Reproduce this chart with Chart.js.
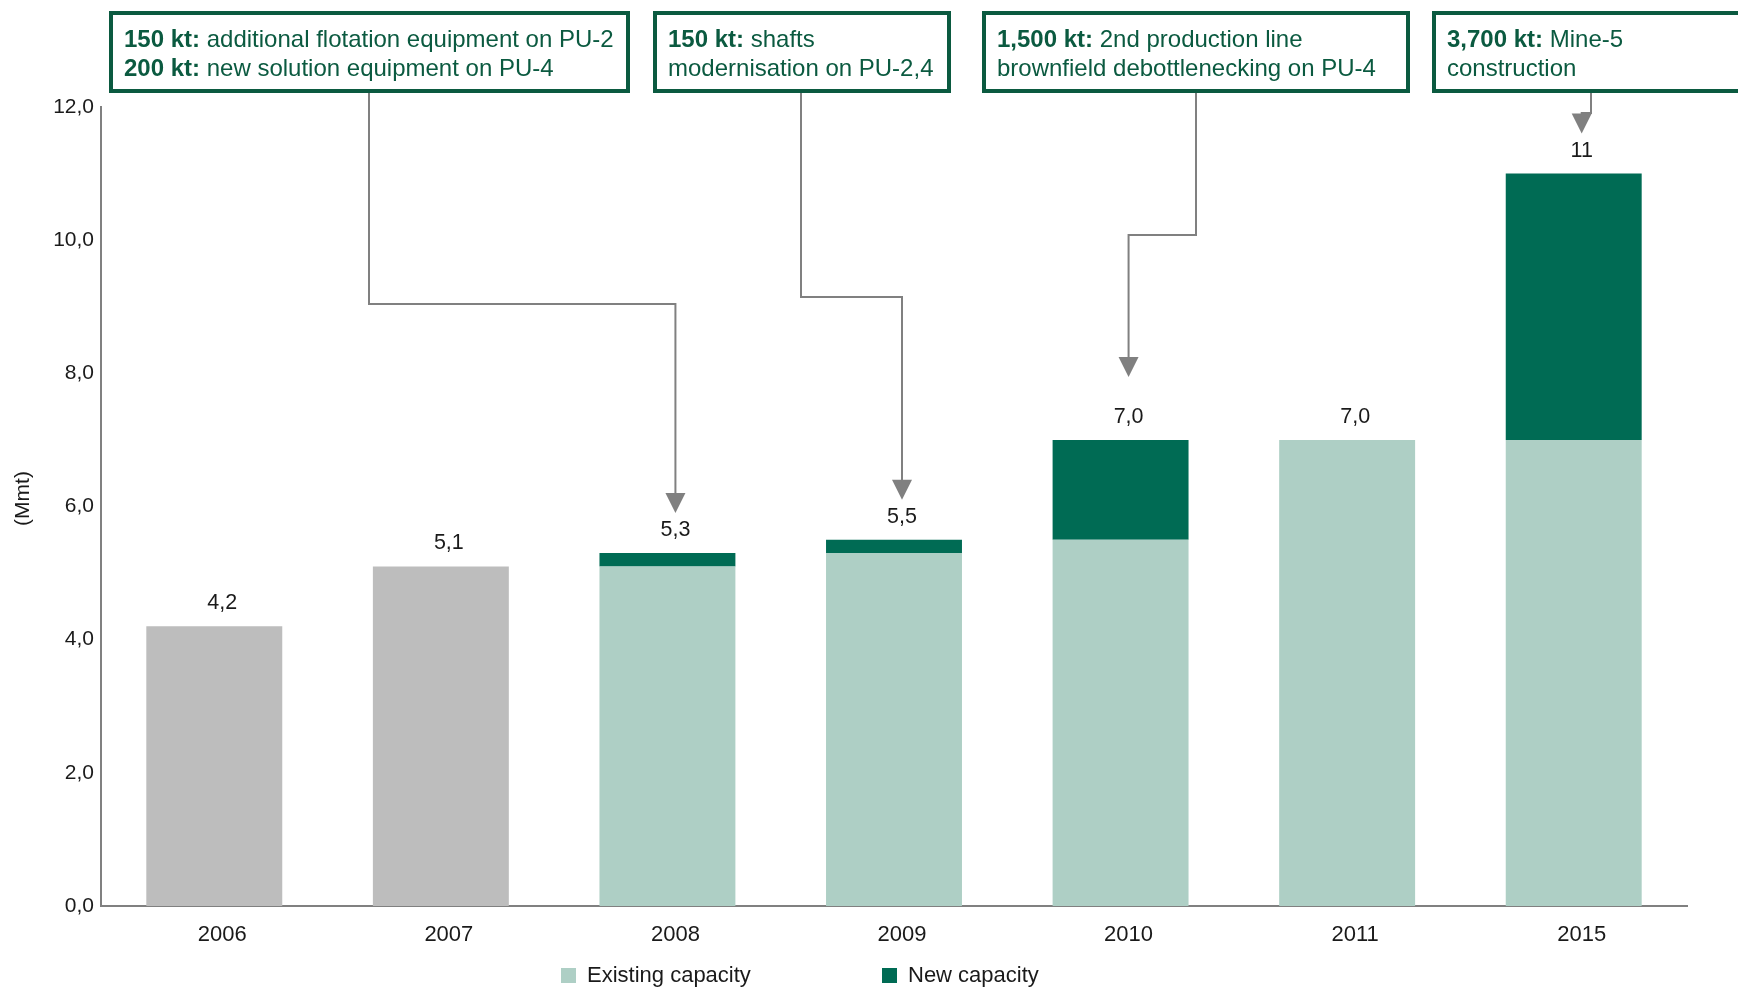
<!DOCTYPE html>
<html>
<head>
<meta charset="utf-8">
<script src="https://cdn.jsdelivr.net/npm/chart.js@4.4.0/dist/chart.umd.min.js"></script>
<style>
  html, body { margin: 0; padding: 0; background: #fff; }
  #wrap { width: 1738px; height: 987px; }
</style>
</head>
<body>
<div id="wrap"><canvas id="capacityChart" width="1738" height="987"></canvas></div>
<script>
// chart data
const years = ["2006", "2007", "2008", "2009", "2010", "2011", "2015"];
const historical = [4.2, 5.1, null, null, null, null, null];
const existingCapacity = [null, null, 5.1, 5.3, 5.5, 7.0, 7.0];
const newCapacity = [null, null, 0.2, 0.2, 1.5, null, 4.0];
const totalLabels = ["4,2", "5,1", "5,3", "5,5", "7,0", "7,0", "11"];
const yTicks = [0, 2, 4, 6, 8, 10, 12];

// callout texts (bold lead + regular rest, one entry per line)
const noteYears = ["2008", "2009", "2010", "2015"];
const noteLines = [
  [["150 kt:", " additional flotation equipment on PU-2"], ["200 kt:", " new solution equipment on PU-4"]],
  [["150 kt:", " shafts"], ["", "modernisation on PU-2,4"]],
  [["1,500 kt:", " 2nd production line"], ["", "brownfield debottlenecking on PU-4"]],
  [["3,700 kt:", " Mine-5"], ["", "construction"]],
];

// callout layout (box rect, stem x, bend y, gap above value label)
const noteBoxes = [
  { x: 109, y: 11, w: 521, h: 82, stemX: 369, bendY: 304, gap: 17 },
  { x: 653, y: 11, w: 298, h: 82, stemX: 801, bendY: 297, gap: 17 },
  { x: 982, y: 11, w: 428, h: 82, stemX: 1196, bendY: 235, gap: 40 },
  { x: 1432, y: 11, w: 340, h: 82, stemX: 1591, bendY: 113, gap: 17 },
];

const FONT = "'Liberation Sans', Arial, sans-serif";
const GREEN_DARK = "#006b54";
const GREEN_LIGHT = "#aecfc5";
const GREY_BAR = "#bdbdbd";
const GREY_LINE = "#808080";
const NOTE_GREEN = "#0b5a40";
const LABEL_SHIFT = 8;

const annotationsPlugin = {
  id: "annotations",
  afterDraw(chart) {
    const ctx = chart.ctx;
    const xScale = chart.scales.x;
    const yScale = chart.scales.y;

    const labelY = (i) => {
      const total = (historical[i] || 0) + (existingCapacity[i] || 0) + (newCapacity[i] || 0);
      return yScale.getPixelForValue(total) - 23;
    };

    ctx.save();

    // value labels above bars
    ctx.fillStyle = "#1a1a1a";
    ctx.font = "21.5px " + FONT;
    ctx.textAlign = "center";
    ctx.textBaseline = "middle";
    years.forEach((y, i) => {
      ctx.fillText(totalLabels[i], xScale.getPixelForValue(i) + LABEL_SHIFT, labelY(i));
    });

    // y axis title, drawn here so it can sit a little above the centre
    ctx.save();
    ctx.translate(23, (chart.chartArea.top + chart.chartArea.bottom) / 2 - 8);
    ctx.rotate(-Math.PI / 2);
    ctx.font = "21px " + FONT;
    ctx.fillText("(Mmt)", 0, 0);
    ctx.restore();

    // callout boxes with connectors
    noteYears.forEach((year, n) => {
      const box = noteBoxes[n];
      const i = years.indexOf(year);
      const tipX = xScale.getPixelForValue(i) + LABEL_SHIFT;
      const tipY = labelY(i) - box.gap;
      const head = 20;

      ctx.strokeStyle = GREY_LINE;
      ctx.lineWidth = 2;
      ctx.beginPath();
      ctx.moveTo(box.stemX, box.y + box.h);
      ctx.lineTo(box.stemX, box.bendY);
      ctx.lineTo(tipX, box.bendY);
      ctx.lineTo(tipX, tipY - head + 2);
      ctx.stroke();

      ctx.fillStyle = GREY_LINE;
      ctx.beginPath();
      ctx.moveTo(tipX - 10, tipY - head);
      ctx.lineTo(tipX + 10, tipY - head);
      ctx.lineTo(tipX, tipY);
      ctx.closePath();
      ctx.fill();

      ctx.fillStyle = "#fff";
      ctx.fillRect(box.x, box.y, box.w, box.h);
      ctx.strokeStyle = NOTE_GREEN;
      ctx.lineWidth = 4;
      ctx.strokeRect(box.x + 2, box.y + 2, box.w - 4, box.h - 4);

      ctx.textAlign = "left";
      ctx.textBaseline = "alphabetic";
      ctx.fillStyle = NOTE_GREEN;
      noteLines[n].forEach((line, k) => {
        const tx = box.x + 15;
        const ty = box.y + 36 + k * 29;
        ctx.font = "bold 24px " + FONT;
        ctx.fillText(line[0], tx, ty);
        const w = ctx.measureText(line[0]).width;
        ctx.font = "24px " + FONT;
        ctx.fillText(line[1], tx + w, ty);
      });
    });

    // legend
    const legendItems = [
      { text: "Existing capacity", color: GREEN_LIGHT, x: 561 },
      { text: "New capacity", color: GREEN_DARK, x: 882 },
    ];
    ctx.font = "22px " + FONT;
    ctx.textBaseline = "middle";
    legendItems.forEach((item) => {
      ctx.fillStyle = item.color;
      ctx.fillRect(item.x, 968, 15, 15);
      ctx.fillStyle = "#1a1a1a";
      ctx.fillText(item.text, item.x + 26, 976);
    });

    ctx.restore();
  },
};

const ctx = document.getElementById("capacityChart").getContext("2d");
new Chart(ctx, {
  type: "bar",
  data: {
    labels: years,
    datasets: [
      { label: "Historical", data: historical, backgroundColor: GREY_BAR },
      { label: "Existing capacity", data: existingCapacity, backgroundColor: GREEN_LIGHT },
      { label: "New capacity", data: newCapacity, backgroundColor: GREEN_DARK },
    ].map((d) => ({ ...d, borderWidth: 0, barPercentage: 0.6, categoryPercentage: 1.0, stack: "cap" })),
  },
  options: {
    responsive: false,
    animation: false,
    devicePixelRatio: 1,
    layout: { padding: { top: 107, right: 51, bottom: 41, left: 0 } },
    plugins: {
      legend: { display: false },
      tooltip: { enabled: false },
    },
    scales: {
      x: {
        stacked: true,
        grid: { display: false, drawTicks: false },
        border: { display: true, color: GREY_LINE, width: 2 },
        ticks: {
          color: "#1a1a1a",
          font: { family: FONT, size: 22 },
          padding: 16,
          labelOffset: LABEL_SHIFT,
        },
        afterFit(scale) {
          scale.height = 40;
        },
      },
      y: {
        stacked: true,
        min: 0,
        max: 12,
        afterBuildTicks(scale) {
          scale.ticks = yTicks.map((v) => ({ value: v }));
        },
        grid: { display: false, drawTicks: false },
        border: { display: true, color: GREY_LINE, width: 2 },
        ticks: {
          color: "#1a1a1a",
          font: { family: FONT, size: 21 },
          padding: 7,
          callback: (v) => v.toFixed(1).replace(".", ","),
        },
        afterFit(scale) {
          scale.width = 101;
        },
      },
    },
  },
  plugins: [annotationsPlugin],
});
</script>
</body>
</html>
